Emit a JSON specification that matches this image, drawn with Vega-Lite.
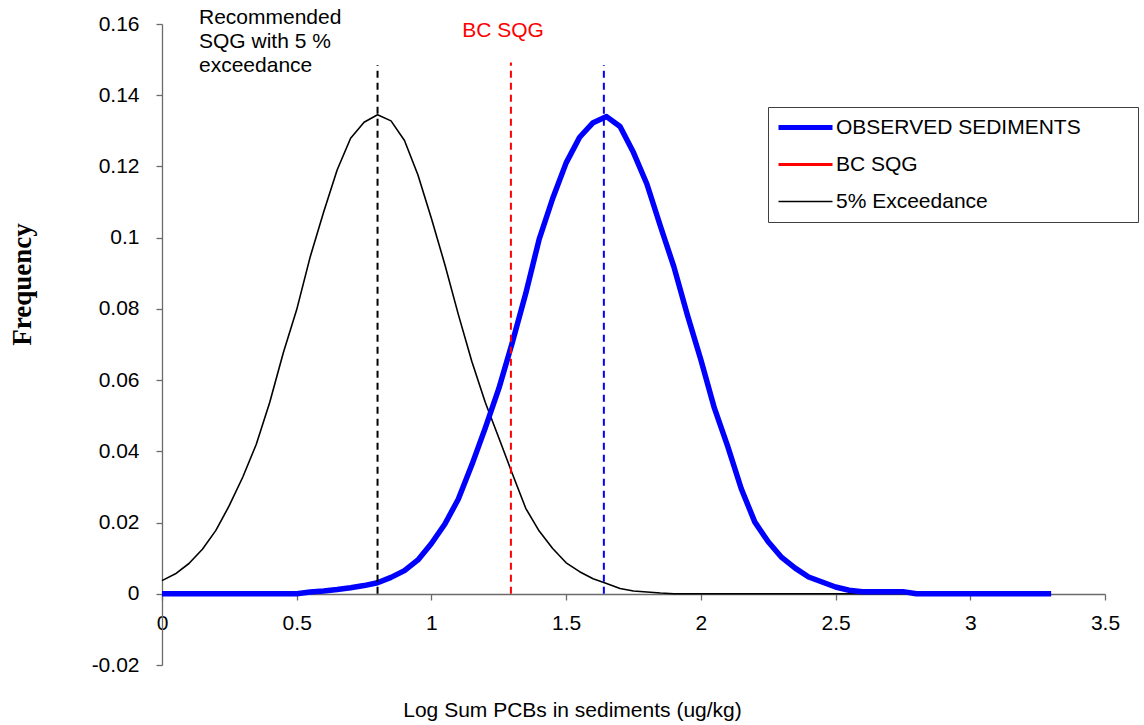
{
  "$schema": "https://vega.github.io/schema/vega-lite/v6.json",
  "width": 943,
  "height": 641,
  "autosize": {"type": "none"},
  "padding": {"left": 162, "top": 24, "right": 39, "bottom": 60},
  "background": "white",
  "config": {
    "view": {"stroke": null},
    "font": "Liberation Sans",
    "axis": {
      "grid": false,
      "domainColor": "#6b6b6b",
      "tickColor": "#6b6b6b",
      "domainWidth": 1.3,
      "tickWidth": 1.3,
      "tickSize": 6,
      "labelColor": "black",
      "labelFont": "Liberation Sans",
      "labelFontSize": 21,
      "titleFont": "Liberation Sans",
      "titleFontSize": 21,
      "titleFontWeight": "normal",
      "titleColor": "black"
    }
  },
  "data": {
    "values": [
      {"x": 0, "y": 0.0037, "series": "5% Exceedance"},
      {"x": 0.05, "y": 0.0056, "series": "5% Exceedance"},
      {"x": 0.1, "y": 0.0085, "series": "5% Exceedance"},
      {"x": 0.15, "y": 0.0125, "series": "5% Exceedance"},
      {"x": 0.2, "y": 0.0178, "series": "5% Exceedance"},
      {"x": 0.25, "y": 0.0248, "series": "5% Exceedance"},
      {"x": 0.3, "y": 0.0328, "series": "5% Exceedance"},
      {"x": 0.35, "y": 0.042, "series": "5% Exceedance"},
      {"x": 0.4, "y": 0.0538, "series": "5% Exceedance"},
      {"x": 0.45, "y": 0.0676, "series": "5% Exceedance"},
      {"x": 0.5, "y": 0.0798, "series": "5% Exceedance"},
      {"x": 0.55, "y": 0.0946, "series": "5% Exceedance"},
      {"x": 0.6, "y": 0.1072, "series": "5% Exceedance"},
      {"x": 0.65, "y": 0.119, "series": "5% Exceedance"},
      {"x": 0.7, "y": 0.1279, "series": "5% Exceedance"},
      {"x": 0.75, "y": 0.1324, "series": "5% Exceedance"},
      {"x": 0.8, "y": 0.1345, "series": "5% Exceedance"},
      {"x": 0.85, "y": 0.1328, "series": "5% Exceedance"},
      {"x": 0.9, "y": 0.1273, "series": "5% Exceedance"},
      {"x": 0.95, "y": 0.1176, "series": "5% Exceedance"},
      {"x": 1.0, "y": 0.1054, "series": "5% Exceedance"},
      {"x": 1.05, "y": 0.0924, "series": "5% Exceedance"},
      {"x": 1.1, "y": 0.0784, "series": "5% Exceedance"},
      {"x": 1.15, "y": 0.0652, "series": "5% Exceedance"},
      {"x": 1.2, "y": 0.0537, "series": "5% Exceedance"},
      {"x": 1.25, "y": 0.0438, "series": "5% Exceedance"},
      {"x": 1.3, "y": 0.0338, "series": "5% Exceedance"},
      {"x": 1.35, "y": 0.024, "series": "5% Exceedance"},
      {"x": 1.4, "y": 0.0176, "series": "5% Exceedance"},
      {"x": 1.45, "y": 0.0127, "series": "5% Exceedance"},
      {"x": 1.5, "y": 0.0087, "series": "5% Exceedance"},
      {"x": 1.55, "y": 0.0062, "series": "5% Exceedance"},
      {"x": 1.6, "y": 0.0042, "series": "5% Exceedance"},
      {"x": 1.65, "y": 0.0029, "series": "5% Exceedance"},
      {"x": 1.7, "y": 0.0015, "series": "5% Exceedance"},
      {"x": 1.75, "y": 0.0008, "series": "5% Exceedance"},
      {"x": 1.8, "y": 0.0005, "series": "5% Exceedance"},
      {"x": 1.85, "y": 0.0002, "series": "5% Exceedance"},
      {"x": 1.9, "y": 0, "series": "5% Exceedance"},
      {"x": 2.5, "y": 0, "series": "5% Exceedance"},
      {"x": 3.0, "y": 0, "series": "5% Exceedance"},
      {"x": 3.3, "y": 0, "series": "5% Exceedance"},
      {"x": 0, "y": 0, "series": "OBSERVED SEDIMENTS"},
      {"x": 0.1, "y": 0, "series": "OBSERVED SEDIMENTS"},
      {"x": 0.2, "y": 0, "series": "OBSERVED SEDIMENTS"},
      {"x": 0.3, "y": 0, "series": "OBSERVED SEDIMENTS"},
      {"x": 0.4, "y": 0, "series": "OBSERVED SEDIMENTS"},
      {"x": 0.5, "y": 0, "series": "OBSERVED SEDIMENTS"},
      {"x": 0.55, "y": 0.0005, "series": "OBSERVED SEDIMENTS"},
      {"x": 0.6, "y": 0.0008, "series": "OBSERVED SEDIMENTS"},
      {"x": 0.65, "y": 0.0012, "series": "OBSERVED SEDIMENTS"},
      {"x": 0.7, "y": 0.0017, "series": "OBSERVED SEDIMENTS"},
      {"x": 0.75, "y": 0.0023, "series": "OBSERVED SEDIMENTS"},
      {"x": 0.8, "y": 0.0031, "series": "OBSERVED SEDIMENTS"},
      {"x": 0.85, "y": 0.0046, "series": "OBSERVED SEDIMENTS"},
      {"x": 0.9, "y": 0.0065, "series": "OBSERVED SEDIMENTS"},
      {"x": 0.95, "y": 0.0095, "series": "OBSERVED SEDIMENTS"},
      {"x": 1.0, "y": 0.0141, "series": "OBSERVED SEDIMENTS"},
      {"x": 1.05, "y": 0.0196, "series": "OBSERVED SEDIMENTS"},
      {"x": 1.1, "y": 0.0266, "series": "OBSERVED SEDIMENTS"},
      {"x": 1.15, "y": 0.0362, "series": "OBSERVED SEDIMENTS"},
      {"x": 1.2, "y": 0.0466, "series": "OBSERVED SEDIMENTS"},
      {"x": 1.25, "y": 0.0576, "series": "OBSERVED SEDIMENTS"},
      {"x": 1.3, "y": 0.0705, "series": "OBSERVED SEDIMENTS"},
      {"x": 1.35, "y": 0.0843, "series": "OBSERVED SEDIMENTS"},
      {"x": 1.4, "y": 0.0996, "series": "OBSERVED SEDIMENTS"},
      {"x": 1.45, "y": 0.111, "series": "OBSERVED SEDIMENTS"},
      {"x": 1.5, "y": 0.121, "series": "OBSERVED SEDIMENTS"},
      {"x": 1.55, "y": 0.1282, "series": "OBSERVED SEDIMENTS"},
      {"x": 1.6, "y": 0.1323, "series": "OBSERVED SEDIMENTS"},
      {"x": 1.65, "y": 0.134, "series": "OBSERVED SEDIMENTS"},
      {"x": 1.7, "y": 0.1312, "series": "OBSERVED SEDIMENTS"},
      {"x": 1.75, "y": 0.1239, "series": "OBSERVED SEDIMENTS"},
      {"x": 1.8, "y": 0.115, "series": "OBSERVED SEDIMENTS"},
      {"x": 1.85, "y": 0.1032, "series": "OBSERVED SEDIMENTS"},
      {"x": 1.9, "y": 0.0918, "series": "OBSERVED SEDIMENTS"},
      {"x": 1.95, "y": 0.0783, "series": "OBSERVED SEDIMENTS"},
      {"x": 2.0, "y": 0.0657, "series": "OBSERVED SEDIMENTS"},
      {"x": 2.05, "y": 0.0522, "series": "OBSERVED SEDIMENTS"},
      {"x": 2.1, "y": 0.0413, "series": "OBSERVED SEDIMENTS"},
      {"x": 2.15, "y": 0.0295, "series": "OBSERVED SEDIMENTS"},
      {"x": 2.2, "y": 0.0202, "series": "OBSERVED SEDIMENTS"},
      {"x": 2.25, "y": 0.0146, "series": "OBSERVED SEDIMENTS"},
      {"x": 2.3, "y": 0.0102, "series": "OBSERVED SEDIMENTS"},
      {"x": 2.35, "y": 0.0072, "series": "OBSERVED SEDIMENTS"},
      {"x": 2.4, "y": 0.0047, "series": "OBSERVED SEDIMENTS"},
      {"x": 2.45, "y": 0.0033, "series": "OBSERVED SEDIMENTS"},
      {"x": 2.5, "y": 0.0019, "series": "OBSERVED SEDIMENTS"},
      {"x": 2.55, "y": 0.001, "series": "OBSERVED SEDIMENTS"},
      {"x": 2.6, "y": 0.0006, "series": "OBSERVED SEDIMENTS"},
      {"x": 2.65, "y": 0.0006, "series": "OBSERVED SEDIMENTS"},
      {"x": 2.7, "y": 0.0006, "series": "OBSERVED SEDIMENTS"},
      {"x": 2.75, "y": 0.0006, "series": "OBSERVED SEDIMENTS"},
      {"x": 2.8, "y": 0, "series": "OBSERVED SEDIMENTS"},
      {"x": 2.9, "y": 0, "series": "OBSERVED SEDIMENTS"},
      {"x": 3.0, "y": 0, "series": "OBSERVED SEDIMENTS"},
      {"x": 3.1, "y": 0, "series": "OBSERVED SEDIMENTS"},
      {"x": 3.2, "y": 0, "series": "OBSERVED SEDIMENTS"},
      {"x": 3.3, "y": 0, "series": "OBSERVED SEDIMENTS"}
    ]
  },
  "encoding": {
    "x": {
      "field": "x",
      "type": "quantitative",
      "scale": {"domain": [0, 3.5], "nice": false, "zero": false},
      "axis": {
        "values": [0, 0.5, 1, 1.5, 2, 2.5, 3, 3.5],
        "format": "~g",
        "offset": -71,
        "labelPadding": 12,
        "labelFlush": false,
        "labelOverlap": false,
        "title": "Log Sum PCBs in sediments (ug/kg)",
        "titleX": 410,
        "titleY": 116,
        "titleAlign": "center",
        "titleBaseline": "middle"
      }
    },
    "y": {
      "field": "y",
      "type": "quantitative",
      "scale": {"domain": [-0.02, 0.16], "nice": false, "zero": false},
      "axis": {
        "values": [-0.02, 0, 0.02, 0.04, 0.06, 0.08, 0.1, 0.12, 0.14, 0.16],
        "labelExpr": "replace(format(datum.value, '.2~f'), '\u2212', '-')",
        "labelPadding": 17,
        "labelOverlap": false,
        "title": "Frequency",
        "titleFont": "Liberation Serif",
        "titleFontWeight": "bold",
        "titleFontSize": 27,
        "titleAngle": -90,
        "titleX": -132,
        "titleY": 260,
        "titleAlign": "center",
        "titleBaseline": "alphabetic"
      }
    }
  },
  "layer": [
    {
      "transform": [{"filter": "datum.series == '5% Exceedance'"}],
      "mark": {"type": "line", "strokeJoin": "round", "strokeWidth": 1.6, "clip": false},
      "encoding": {
        "color": {
          "field": "series",
          "type": "nominal",
          "scale": {
            "domain": ["OBSERVED SEDIMENTS", "BC SQG", "5% Exceedance"],
            "range": ["#0000ff", "#ff0000", "#000000"]
          },
          "legend": {
            "orient": "none",
            "legendX": 606,
            "legendY": 83,
            "title": null,
            "symbolType": "M-2.7,0H2.7",
            "symbolSize": 400,
            "symbolOffset": 17,
            "labelOffset": 20,
            "labelFont": "Liberation Sans",
            "labelFontSize": 21,
            "labelColor": "black",
            "labelLimit": 500,
            "rowPadding": 15,
            "padding": 10,
            "strokeColor": "#404040",
            "fillColor": "white",
            "labelExpr": "datum.label == 'OBSERVED SEDIMENTS' ? datum.label + '\u00a0\u00a0\u00a0\u00a0\u00a0\u00a0\u00a0\u00a0\u200b' : datum.label",
            "encoding": {
              "symbols": {
                "strokeWidth": {"value": {"expr": "datum.value == 'OBSERVED SEDIMENTS' ? 5 : (datum.value == 'BC SQG' ? 3 : 1.5)"}}
              }
            }
          }
        }
      }
    },
    {
      "transform": [{"filter": "datum.series == 'OBSERVED SEDIMENTS'"}],
      "mark": {"type": "line", "strokeJoin": "round", "strokeWidth": 5.5, "clip": false},
      "encoding": {
        "color": {"field": "series", "type": "nominal"}
      }
    },
    {
      "data": {"values": [{"x": 0.8, "y": 0, "y2": 0.1485}]},
      "mark": {"type": "rule", "color": "#000000", "strokeWidth": 2, "strokeDash": [7, 5]},
      "encoding": {"y2": {"field": "y2"}}
    },
    {
      "data": {"values": [{"x": 1.295, "y": 0, "y2": 0.1492}]},
      "mark": {"type": "rule", "color": "#ff0000", "strokeWidth": 2, "strokeDash": [7, 5]},
      "encoding": {"y2": {"field": "y2"}}
    },
    {
      "data": {"values": [{"x": 1.64, "y": 0, "y2": 0.1485}]},
      "mark": {"type": "rule", "color": "#0000ff", "strokeWidth": 2, "strokeDash": [7, 5]},
      "encoding": {"y2": {"field": "y2"}}
    },
    {
      "data": {"values": [{"x": 0.1373, "y": 0.1601, "label": ["Recommended", "SQG with 5 %", "exceedance"]}]},
      "mark": {"type": "text", "align": "left", "baseline": "alphabetic", "font": "Liberation Sans", "fontSize": 21, "lineHeight": 24.3, "color": "black", "clip": false},
      "encoding": {"text": {"field": "label"}}
    },
    {
      "data": {"values": [{"x": 1.266, "y": 0.1564, "label": "BC SQG"}]},
      "mark": {"type": "text", "align": "center", "baseline": "alphabetic", "font": "Liberation Sans", "fontSize": 21, "color": "#ff0000", "clip": false},
      "encoding": {"text": {"field": "label"}}
    }
  ]
}
